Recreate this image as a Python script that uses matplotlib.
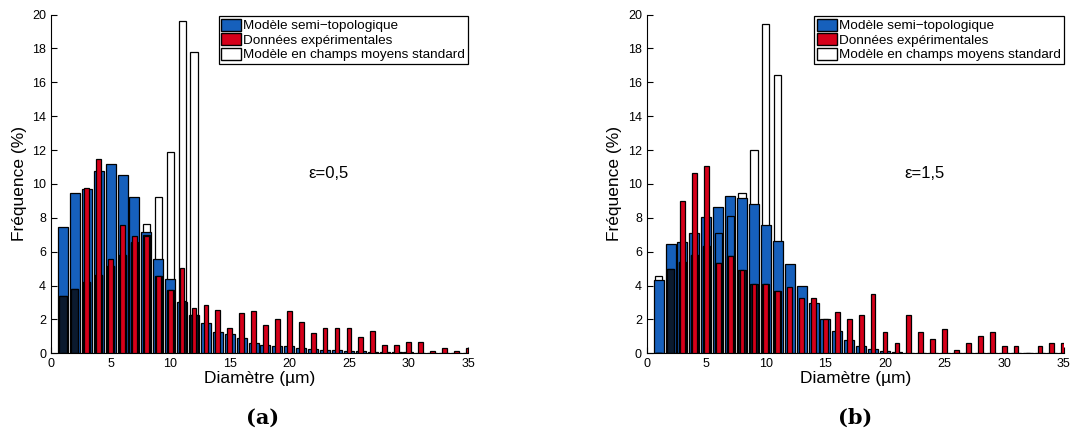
import numpy as np
import matplotlib
matplotlib.use('Agg')
import matplotlib.pyplot as plt
from matplotlib.patches import Patch

plt.rcParams['font.family'] = ['Liberation Sans', 'DejaVu Sans']

# bin centres (diameter in um)
diam = np.arange(1, 36)

# panel (a) eps = 0.5
semi_a = [7.43, 9.44, 9.70, 10.78, 11.19, 10.54, 9.24, 7.18, 5.55, 4.37, 3.05, 2.26,
          1.79, 1.28, 1.12, 0.88, 0.62, 0.50, 0.43, 0.40, 0.30, 0.24, 0.20, 0.20,
          0.15, 0.12, 0.10, 0.08, 0.06, 0.05, 0.04, 0.03, 0.03, 0.02, 0.02]
exp_a = [0, 0, 9.77, 11.46, 5.55, 7.57, 6.90, 6.90, 4.56, 3.72, 5.06, 2.68,
         2.86, 2.53, 1.50, 2.36, 2.52, 1.67, 2.03, 2.52, 1.85, 1.18, 1.50, 1.50,
         1.50, 0.98, 1.32, 0.47, 0.47, 0.65, 0.65, 0.14, 0.31, 0.16, 0.31]
std_a = [3.38, 3.78, 4.23, 4.62, 5.15, 5.80, 6.55, 7.62, 9.20, 11.90, 19.63, 17.80]
overlap_a = [3.38, 3.78, 4.23, 4.62, 5.15, 5.80, 6.53, 7.00, 4.56, 3.72, 3.07, 2.26]

# panel (b) eps = 1.5
semi_b = [4.31, 6.43, 6.55, 7.08, 8.04, 8.65, 9.28, 9.18, 8.82, 7.57, 6.65, 5.25,
          3.97, 2.95, 2.05, 1.30, 0.80, 0.42, 0.25, 0.14, 0.07, 0.03, 0.02, 0.01,
          0, 0, 0, 0, 0, 0, 0, 0, 0, 0, 0]
exp_b = [0, 0, 8.99, 10.64, 11.05, 5.31, 5.72, 4.91, 4.07, 4.07, 3.68, 3.90,
         3.28, 3.26, 2.04, 2.45, 2.04, 2.25, 3.48, 1.24, 0.62, 2.25, 1.24, 0.83,
         1.44, 0.22, 0.61, 1.02, 1.24, 0.41, 0.41, 0, 0.41, 0.61, 0.61]
std_b = [4.56, 4.98, 5.37, 5.80, 6.35, 7.08, 8.08, 9.49, 12.00, 19.43, 16.42]
overlap_b = [0, 4.98, 5.37, 5.80, 6.35, 5.31, 5.72, 4.91, 4.07, 4.07, 3.68]

labels = ['Modèle semi\u2212topologique', 'Données expérimentales',
          'Modèle en champs moyens standard']
eps_text = ['\u03b5=0,5', '\u03b5=1,5']
panel_tags = ['(a)', '(b)']

blue = '#1660bc'
red = '#d6001a'
dark = '#0b1a2e'


def draw_panel(ax, semi, exp, std, overlap, eps):
    x_std = diam[:len(std)]
    x_ov = diam[:len(overlap)]
    ax.bar(x_std, std, width=0.6, color='white', edgecolor='black', linewidth=0.9, zorder=1)
    ax.bar(diam, semi, width=0.84, color=blue, edgecolor='black', linewidth=0.9, zorder=2)
    # outline of the standard model where it sits inside the blue bar
    inner = [s if s < b else 0 for s, b in zip(std, semi)]
    ax.bar(x_std, inner, width=0.6, fill=False, edgecolor='black', linewidth=0.9, zorder=3)
    ax.bar(x_ov, overlap, width=0.6, color=dark, edgecolor='black', linewidth=0.9, zorder=4)
    ax.bar(diam, exp, width=0.4, color=red, edgecolor='black', linewidth=0.9, zorder=5)

    ax.set_xlim(0, 35)
    ax.set_ylim(0, 20)
    ax.set_xticks(np.arange(0, 36, 5))
    ax.set_yticks(np.arange(0, 21, 2))
    ax.spines['top'].set_visible(False)
    ax.spines['right'].set_visible(False)
    ax.tick_params(direction='in', length=4, labelsize=9, width=0.8)
    ax.set_xlabel('Diamètre (\u00b5m)', fontsize=12.5, labelpad=1)
    ax.set_ylabel('Fréquence (%)', fontsize=12.5, labelpad=4)
    ax.text(23.3, 10.6, eps, fontsize=12, ha='center', va='center')

    handles = [Patch(facecolor=blue, edgecolor='black'),
               Patch(facecolor=red, edgecolor='black'),
               Patch(facecolor='white', edgecolor='black')]
    leg = ax.legend(handles, labels, loc='upper right', bbox_to_anchor=(1.0, 0.995),
                    borderaxespad=0, fontsize=9.7, fancybox=False, framealpha=1,
                    edgecolor='black', labelspacing=0.08, handlelength=1.5,
                    handleheight=0.95, handletextpad=0.15, borderpad=0.2)
    leg.get_frame().set_linewidth(0.9)


fig = plt.figure(figsize=(10.72, 4.41), dpi=100)
ax_a = fig.add_axes([0.0476, 0.199, 0.389, 0.768])
ax_b = fig.add_axes([0.6033, 0.199, 0.389, 0.768])

draw_panel(ax_a, semi_a, exp_a, std_a, overlap_a, eps_text[0])
draw_panel(ax_b, semi_b, exp_b, std_b, overlap_b, eps_text[1])

fig.text(0.2445, 0.052, panel_tags[0], fontsize=15, fontweight='bold',
         family='DejaVu Serif', ha='center', va='center')
fig.text(0.7975, 0.052, panel_tags[1], fontsize=15, fontweight='bold',
         family='DejaVu Serif', ha='center', va='center')

fig.savefig('out.png', dpi=100)
